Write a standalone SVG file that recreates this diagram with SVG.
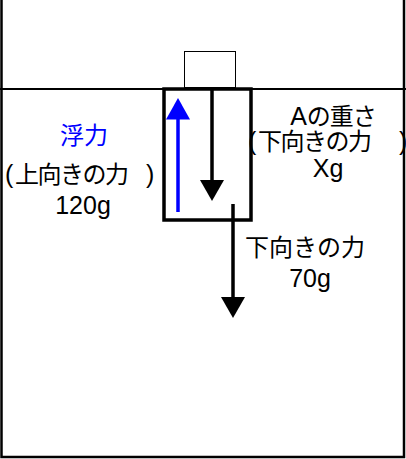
<svg xmlns="http://www.w3.org/2000/svg" width="406" height="459" viewBox="0 0 406 459">
<style>
text { font-family: "Liberation Sans", "Noto Sans CJK JP", sans-serif; font-size: 25px; fill: #000; }
.cjk { font-size: 24px; }
.blue { fill: #0000ff; }
.c { text-anchor: middle; }
.frame { fill: none; stroke: #000; stroke-width: 2.5; }
.arrow { stroke: #000; stroke-width: 3.5; fill: none; }
</style>
<rect width="406" height="459" fill="#fff"/>
<g id="container">
  <path class="frame" d="M1.5,0 V457 H404 V0"/>
</g>
<g id="water-surface">
  <line x1="0" y1="89" x2="406" y2="89" stroke="#000" stroke-width="2.2"/>
</g>
<g id="top-block">
  <rect x="184.5" y="51.5" width="51" height="36" fill="#fff" stroke="#000" stroke-width="1"/>
</g>
<g id="object-A">
  <rect x="164" y="89" width="87" height="131" fill="none" stroke="#000" stroke-width="3.5"/>
</g>
<g id="connectors">
  <line x1="178" y1="212" x2="178" y2="117" stroke="#0000ff" stroke-width="3.5"/>
  <polygon points="178,98 166,119.5 190,119.5" fill="#0000ff"/>
  <line class="arrow" x1="212" y1="89" x2="212" y2="182"/>
  <polygon points="212,201 200,180 224,180" fill="#000"/>
  <line class="arrow" x1="233" y1="204" x2="233" y2="299"/>
  <polygon points="233,318 221,297 245,297" fill="#000"/>
</g>
<g id="label-buoyancy">
  <text class="blue c cjk" x="84" y="144">浮力</text>
  <text y="183"><tspan x="5">(</tspan><tspan class="cjk" x="15" letter-spacing="-1.5">上向きの力</tspan><tspan x="146">)</tspan></text>
  <text class="c" x="83" y="214">120g</text>
</g>
<g id="label-weight">
  <text class="c" x="333" y="125"><tspan>A</tspan><tspan class="cjk" letter-spacing="-1">の重さ</tspan></text>
  <text y="150"><tspan x="248">(</tspan><tspan class="cjk" x="258" letter-spacing="-1.5">下向きの力</tspan><tspan x="399">)</tspan></text>
  <text class="c" x="328" y="177">Xg</text>
</g>
<g id="label-down">
  <text class="c cjk" x="305" y="256" letter-spacing="0">下向きの力</text>
  <text class="c" x="310" y="287">70g</text>
</g>
</svg>
